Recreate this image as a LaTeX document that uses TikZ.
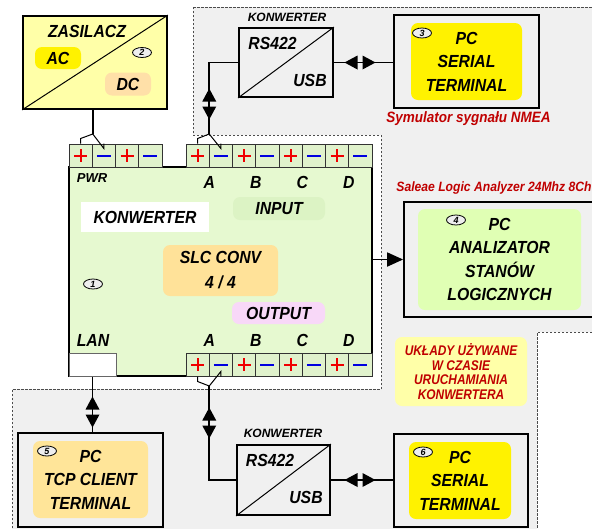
\documentclass[tikz,border=0pt]{standalone}
\usepackage{fontspec}
\newfontfamily\labf[FakeStretch=0.9]{Liberation Sans}
\newfontfamily\labw{Liberation Sans}
\newfontfamily\labn[FakeStretch=0.85]{Liberation Sans}
\usetikzlibrary{shapes.geometric,arrows.meta}
\definecolor{bggray}{HTML}{F0F0F0}
\definecolor{zasy}{HTML}{FFFFA8}
\definecolor{dcor}{HTML}{FFE0A8}
\definecolor{maingreen}{HTML}{E6F9D0}
\definecolor{cellgreen}{HTML}{E0F2CC}
\definecolor{inputg}{HTML}{DCF3C4}
\definecolor{slcor}{HTML}{FFE299}
\definecolor{outpink}{HTML}{F8D8F8}
\definecolor{pcgreen}{HTML}{E0FFB4}
\definecolor{pcor}{HTML}{FFE599}
\definecolor{darkred}{HTML}{C00000}
\definecolor{plusred}{HTML}{F00000}
\definecolor{minusblue}{HTML}{0000E0}
\definecolor{ovalgray}{HTML}{EEEEEE}
\tikzset{
  tplus/.pic={\draw[plusred, line width=2pt] (-6.5,0) -- (6.5,0) (0,-6.5) -- (0,6.5);},
  tminus/.pic={\draw[minusblue, line width=2pt] (-7,0) -- (7,0);},
  biarr/.pic={\fill[black] (-15.5,0) -- (-2.5,-7) -- (-2.5,7) -- cycle;
              \fill[black] (15.5,0) -- (2.5,-7) -- (2.5,7) -- cycle;}
}
\begin{document}
\begin{tikzpicture}[x=1pt,y=-1pt,
  box/.style={draw=black, line width=1.8pt, inner sep=0pt},
  conn/.style={draw=black, line width=1.8pt},
  hatline/.style={draw=black, line width=1pt},
  rbox/.style={rounded corners=7pt, inner sep=0pt, draw=none},
  big/.style={font=\labf\bfseries\itshape\fontsize{17.5}{23.5}\selectfont, inner sep=0pt, align=center},
  smalltxt/.style={font=\labw\bfseries\itshape\fontsize{12}{14}\selectfont, inner sep=0pt},
  pwrtxt/.style={font=\labw\bfseries\itshape\fontsize{13}{14}\selectfont, inner sep=0pt},
  redcap/.style={font=\labf\bfseries\itshape\fontsize{15}{16}\selectfont, inner sep=0pt, text=darkred},
  num/.style={ellipse, draw=black, line width=0.8pt, fill=ovalgray, minimum width=19pt, minimum height=10pt, inner sep=0pt, font=\labw\bfseries\itshape\fontsize{9}{9}\selectfont},
  cell/.style={draw=black!80, line width=1pt, fill=cellgreen, minimum width=23.25pt, minimum height=23pt, inner sep=0pt}
]
\useasboundingbox (0,0) rectangle (592,528);
\fill[white] (0,0) rectangle (592,528);
% gray background region
\path[fill=bggray, draw=black!70, line width=0.7pt, dash pattern=on 2.5pt off 1.5pt]
  (193,7) -- (600,7) -- (600,332) -- (537,332) -- (537,540) -- (12,540) -- (12,389)
  -- (381,389) -- (381,135) -- (193,135) -- cycle;

% ZASILACZ
\node[box, fill=zasy, minimum width=144pt, minimum height=93pt] (zas) at (95,62.5) {};
\draw[line width=1pt] (zas.south west) -- (zas.north east);
\node[big] (zast) at (87,31) {ZASILACZ};
\node[rbox, fill=yellow, minimum width=46pt, minimum height=22pt, big] (ac) at (58,58) {AC};
\node[rbox, fill=dcor, minimum width=46pt, minimum height=23pt, big] (dc) at (128,84) {DC};
\node[num] (n2) at (142,52.5) {2};

% top converter
\node[box, fill=bggray, minimum width=94pt, minimum height=69pt] (rs1) at (286,62.5) {};
\draw[line width=1pt] (rs1.south west) -- (rs1.north east);
\node[smalltxt] (k1) at (287,17) {KONWERTER};
\node[big] (rs1a) at (272.5,43) {RS422};
\node[big] (rs1b) at (310,80) {USB};

% PC 3
\node[box, fill=bggray, minimum width=145pt, minimum height=93pt] (pc3) at (466.5,61.5) {};
\node[rbox, fill=yellow, minimum width=111pt, minimum height=77pt, big] (pc3in) at (466.5,61.5) {PC\\SERIAL\\TERMINAL};
\node[num] (n3) at (422,33) {3};
\node[redcap] (cap1) at (468.5,119) {Symulator sygnału NMEA};

% PC 4
\node[redcap, font=\labf\bfseries\itshape\fontsize{13.5}{15}\selectfont] (cap2) at (494,188) {Saleae Logic Analyzer 24Mhz 8Ch};
\node[box, fill=bggray, minimum width=196pt, minimum height=115pt] (pc4) at (502,259.5) {};
\node[rbox, fill=pcgreen, minimum width=163pt, minimum height=101pt, big] (pc4in) at (499.5,259.5) {PC\\ANALIZATOR\\STANÓW\\LOGICZNYCH};
\node[num] (n4) at (456,220) {4};

% note
\node[rbox, fill=zasy, minimum width=132pt, minimum height=69pt, align=center,
  font=\labn\bfseries\itshape\fontsize{14}{14.4}\selectfont, text=darkred] (ukl) at (461,371.5)
  {UKŁADY UŻYWANE\\W CZASIE\\URUCHAMIANIA\\KONWERTERA};

% PC 6
\node[box, fill=bggray, minimum width=134pt, minimum height=93pt] (pc6) at (461,480.5) {};
\node[rbox, fill=yellow, minimum width=102pt, minimum height=77pt, big] (pc6in) at (460,480.5) {PC\\SERIAL\\TERMINAL};
\node[num] (n6) at (423,452) {6};

% bottom converter
\node[box, fill=bggray, minimum width=93pt, minimum height=70pt] (rs2) at (283.5,480) {};
\draw[line width=1pt] (rs2.south west) -- (rs2.north east);
\node[smalltxt] (k2) at (283,433) {KONWERTER};
\node[big] (rs2a) at (270,460) {RS422};
\node[big] (rs2b) at (306,497) {USB};

% PC 5
\node[box, fill=bggray, minimum width=145pt, minimum height=94pt] (pc5) at (90.5,480) {};
\node[rbox, fill=pcor, minimum width=115pt, minimum height=77pt, big] (pc5in) at (90.5,479.5) {PC\\TCP CLIENT\\TERMINAL};
\node[num] (n5) at (47,451) {5};

% main converter
\node[box, fill=maingreen, minimum width=303pt, minimum height=209pt] (main) at (220.5,271.5) {};
\foreach \i in {0,...,3} {
  \node[cell] (pw\i) at ({69+23.25*(\i+0.5)},155.5) {};
  \ifodd\i \pic at (pw\i.center) {tminus}; \else \pic at (pw\i.center) {tplus}; \fi
}
\foreach \i in {0,...,7} {
  \node[cell] (in\i) at ({186+23.25*(\i+0.5)},155.5) {};
  \ifodd\i \pic at (in\i.center) {tminus}; \else \pic at (in\i.center) {tplus}; \fi
  \node[cell] (out\i) at ({186+23.25*(\i+0.5)},364.5) {};
  \ifodd\i \pic at (out\i.center) {tminus}; \else \pic at (out\i.center) {tplus}; \fi
}
\node[draw=black!60, line width=1pt, fill=white, minimum width=47pt, minimum height=23pt, inner sep=0pt] (lan) at (92.5,364.5) {};

\node[pwrtxt] (pwr) at (92,178) {PWR};
\node[big] (ta) at (209.25,182.5) {A};
\node[big] (tb) at (255.75,182.5) {B};
\node[big] (tc) at (302.25,182.5) {C};
\node[big] (td) at (348.75,182.5) {D};
\node[rbox, fill=inputg, minimum width=92pt, minimum height=23pt, big] (inp) at (279,208.5) {INPUT};
\node[fill=white, minimum width=128pt, minimum height=30pt, inner sep=0pt, big] (konw) at (145,217) {KONWERTER};
\node[rbox, fill=slcor, minimum width=115pt, minimum height=51pt, big, font=\labf\bfseries\itshape\fontsize{17.5}{25}\selectfont] (slc) at (220.5,270.5) {SLC CONV\\4 / 4};
\node[num] (n1) at (93,284) {1};
\node[rbox, fill=outpink, minimum width=93pt, minimum height=22pt, big] (outp) at (278.5,313) {OUTPUT};
\node[big] (lant) at (93,340) {LAN};
\node[big] (ba) at (209.25,340) {A};
\node[big] (bb) at (255.75,340) {B};
\node[big] (bc) at (302.25,340) {C};
\node[big] (bd) at (348.75,340) {D};

% hats
\coordinate (hP) at (92.75,134);
\coordinate (hA) at (209.25,134);
\coordinate (hB) at (209.25,386);
\draw[hatline] (pw0.north) -- ++(0,-5) -- (hP) -- ([yshift=-5pt]pw1.north) -- (pw1.north);
\draw[hatline] (in0.north) -- ++(0,-5) -- (hA) -- ([yshift=-5pt]in1.north) -- (in1.north);
\draw[hatline] (out0.south) -- ++(0,5) -- (hB) -- ([yshift=5pt]out1.south) -- (out1.south);

% connectors
\draw[conn] (hP) -- (hP |- zas.south);
\draw[conn] (hA) |- (rs1.west);
\draw[conn] (hB) |- (rs2.west);
\draw[conn] (rs1.east) -- (rs1.east -| pc3.west);
\draw[conn] (rs2.east) -- (rs2.east -| pc6.west);
\draw[conn] (lan.south) -- (lan.south |- pc5.north);
\draw[conn, -{Triangle[length=16pt,width=14pt]}] (pc4.west -| main.east) -- (pc4.west);

% double arrow heads
\pic[rotate=90] at (209.25,104) {biarr};
\pic at (360,62.5) {biarr};
\pic[rotate=90] at (92.5,412) {biarr};
\pic[rotate=90] at (209.25,423) {biarr};
\pic at (360,480) {biarr};
\end{tikzpicture}
\end{document}
